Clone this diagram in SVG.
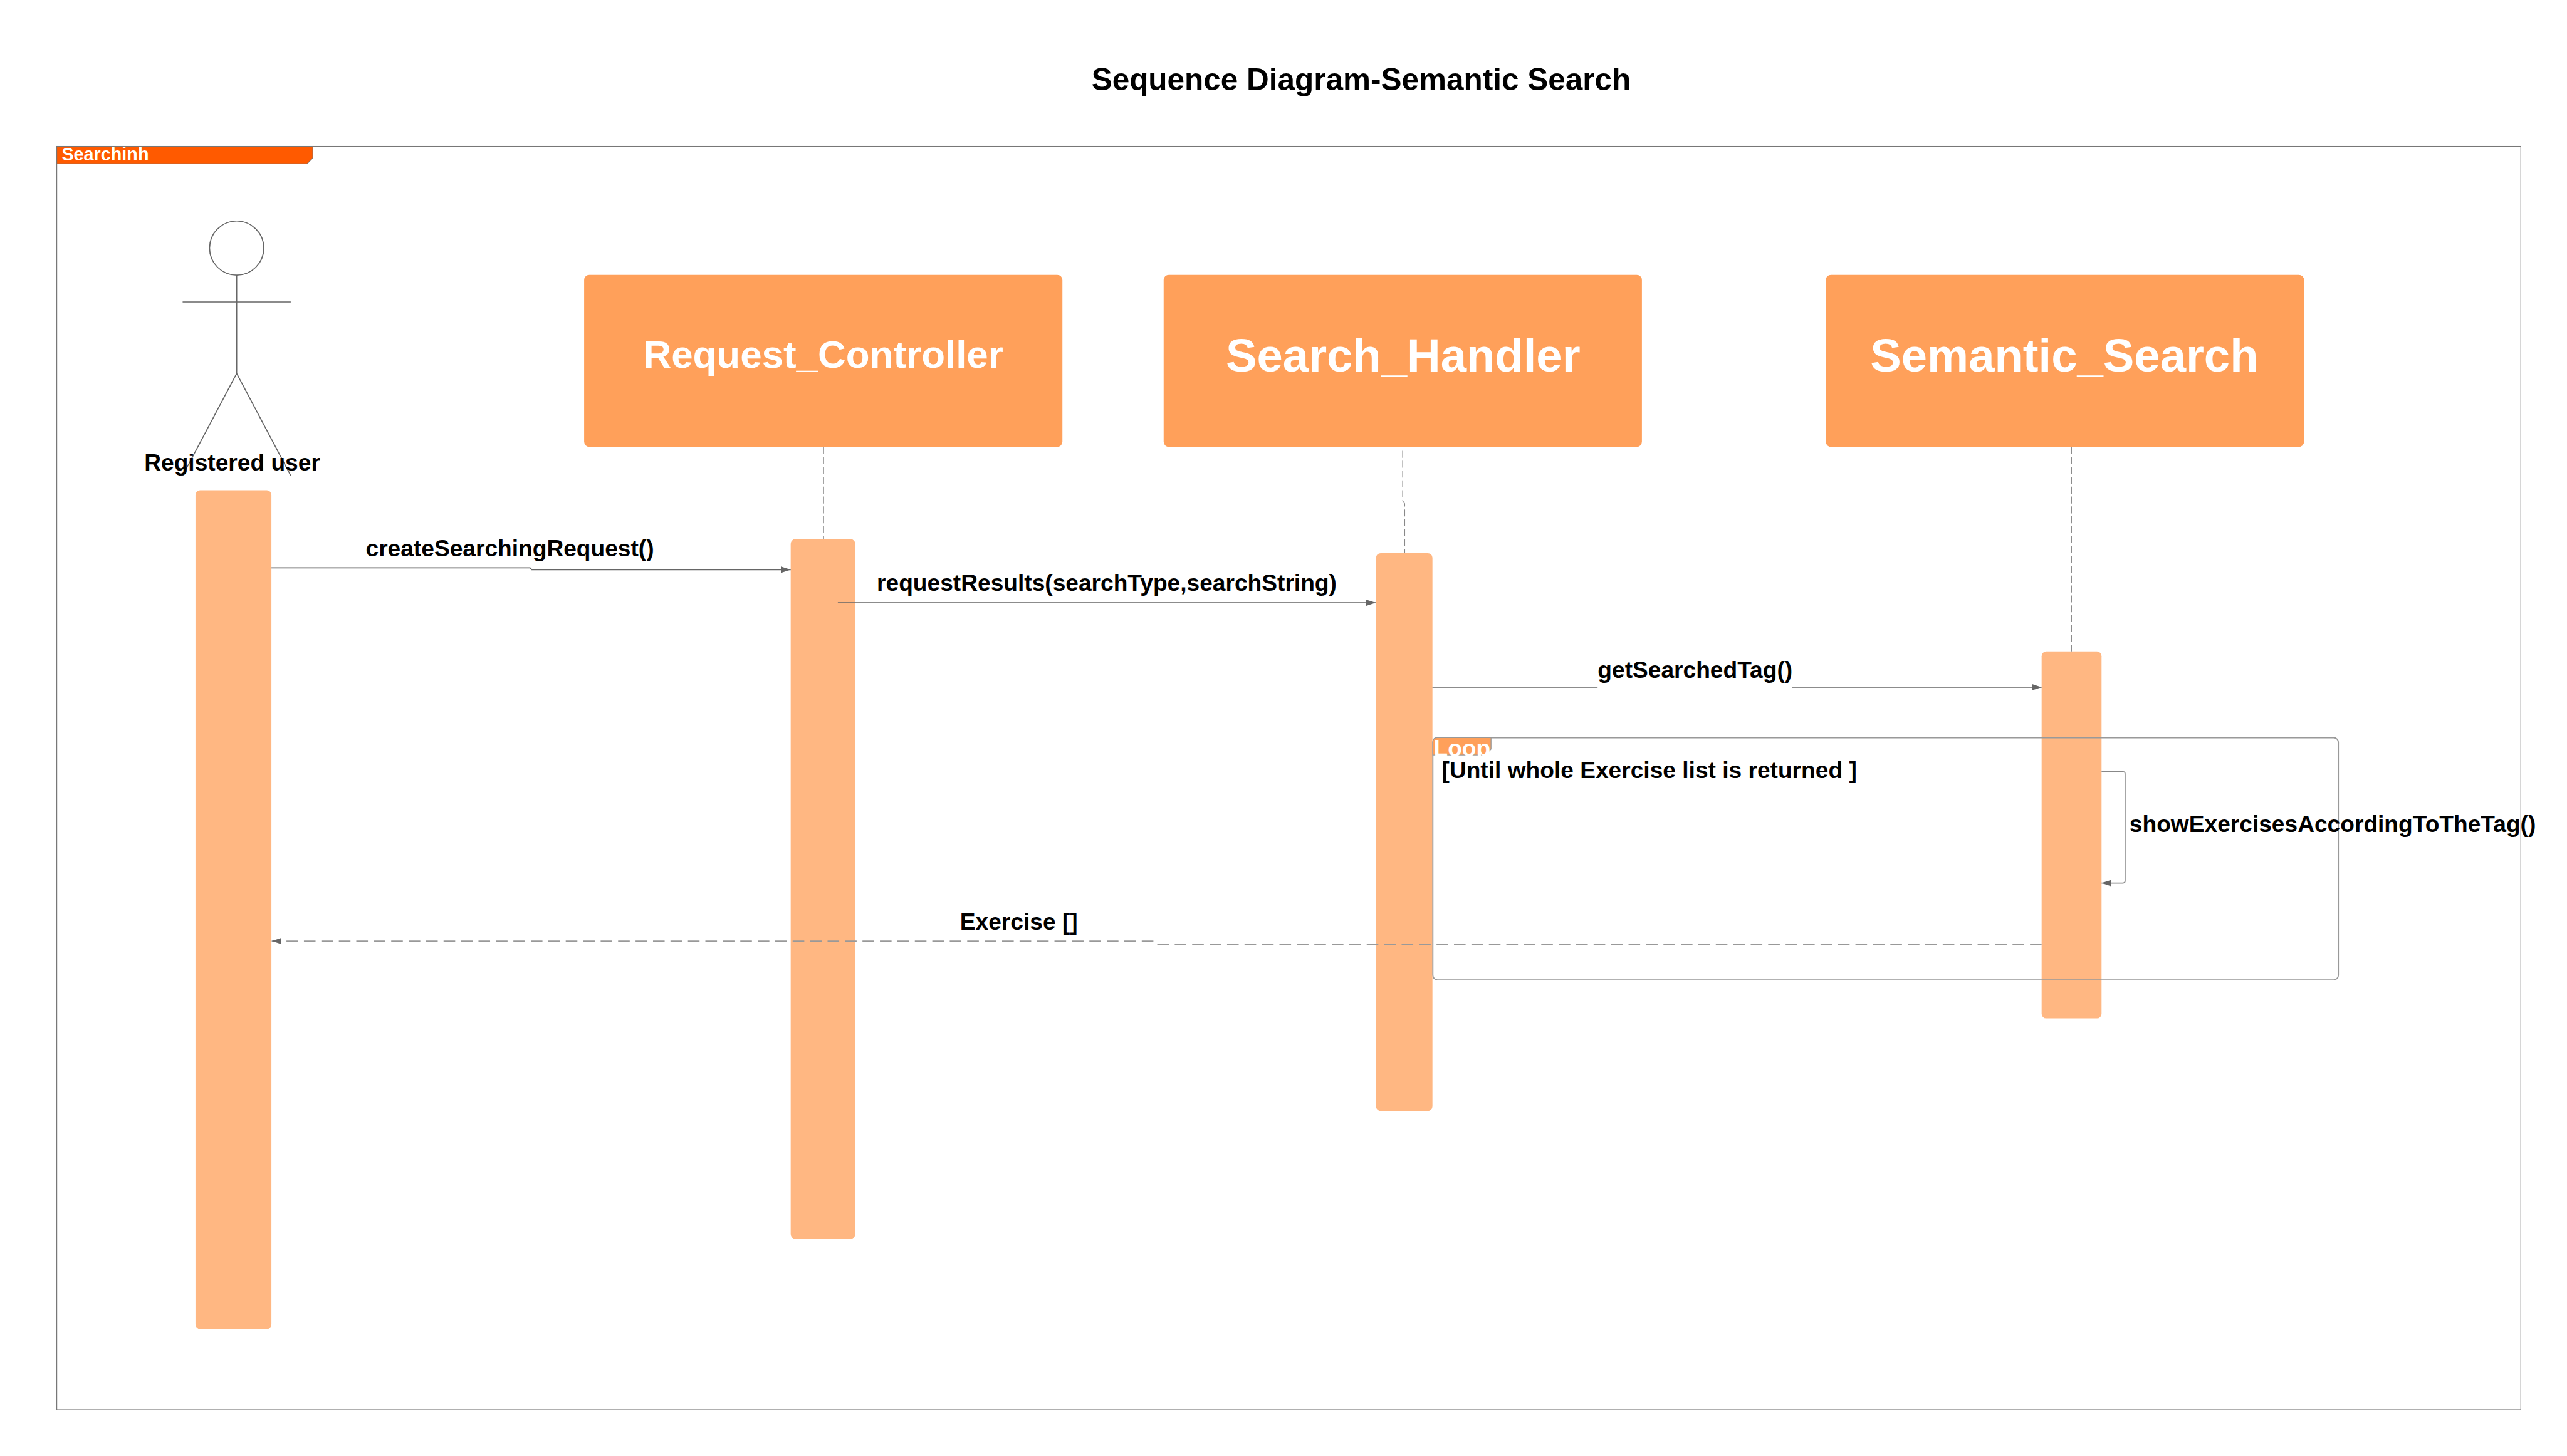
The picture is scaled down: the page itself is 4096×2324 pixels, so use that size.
<svg xmlns="http://www.w3.org/2000/svg" width="4096" height="2324" viewBox="0 0 4096 2324">
<style>
text{font-family:"Liberation Sans",Arial,sans-serif;font-weight:700;fill:#000}
.lbl{font-size:40px}
.wht{fill:#fff}
.big{font-size:80px;text-anchor:middle}
.box{fill:#ffa05a}
.act{fill:#ffb782}
.line{fill:none;stroke:#666;stroke-width:1.8}
.actor{fill:none;stroke:#666;stroke-width:1.8}
.ret{fill:none;stroke:#999;stroke-width:2;stroke-dasharray:20 10}
.life{fill:none;stroke:#888;stroke-width:1.4;stroke-dasharray:12 5}
.frame{fill:none;stroke:#777;stroke-width:1.3}
.loop{fill:none;stroke:#999;stroke-width:2}
</style>
<defs>
<marker id="arrow" markerUnits="userSpaceOnUse" markerWidth="18" markerHeight="12" refX="17" refY="6" orient="auto"><path d="M0,0.5 L17,6 L0,11.5 Z" fill="#666"/></marker>
</defs>
<rect width="4096" height="2324" fill="#fff"/>
<g transform="scale(0.92838)">
<text id="title" x="1876" y="155" font-size="53.300">Sequence Diagram-Semantic Search</text>
<g id="frame-searching">
<rect class="frame" x="97.6" y="251.6" width="4235" height="2172"/>
<path d="M97.6,251.6 H537.7 V271.5 L528,281.4 H97.6 Z" fill="#ff5a00" stroke="#777" stroke-width="1.2"/>
<text x="106" y="276" font-size="31" class="wht">Searchinh</text>
</g>
<g id="activations">
<rect class="act" x="336" y="843" width="130.500" height="1442" rx="8"/>
<rect class="act" x="1359" y="927" width="111" height="1203" rx="8"/>
<rect class="act" x="2365" y="951" width="97" height="959" rx="8"/>
<rect class="act" x="3509" y="1120" width="103" height="631" rx="8"/>
</g>
<g id="actor-registered-user">
<ellipse class="actor" cx="406.800" cy="426.500" rx="46.600" ry="46.500"/>
<path class="actor" d="M406.800,473 V642 M313.900,519.200 H499.700 M313.900,817.600 L406.800,642 L499.700,817.600"/>
<text class="lbl" x="248" y="808.400">Registered user</text>
</g>
<g id="node-request-controller">
<rect class="box" x="1004" y="472.500" width="822" height="296" rx="9"/>
<text x="1415" y="632" font-size="66.700" text-anchor="middle" class="wht">Request_Controller</text>
</g>
<g id="node-search-handler">
<rect class="box" x="2000" y="472.500" width="822" height="296" rx="9"/>
<text x="2411.500" y="638.300" class="big wht">Search_Handler</text>
</g>
<g id="node-semantic-search">
<rect class="box" x="3138" y="472.500" width="822" height="296" rx="9"/>
<text x="3548" y="638.300" class="big wht">Semantic_Search</text>
</g>
<g id="fragment-loop">
<rect class="loop" x="2462.700" y="1268.300" width="1556.300" height="416.500" rx="8"/>
<path d="M2462.700,1276 Q2462.700,1268.300 2470,1268.300 H2562.700 V1288 L2553,1298 H2462.700 Z" fill="#ffa05a" stroke="#999" stroke-width="1.400"/>
<text class="lbl wht" x="2464" y="1300">Loop</text>
<text class="lbl" x="2478" y="1337.500">[Until whole Exercise list is returned ]</text>
</g>
<g id="connectors">
<path class="life" d="M1415.500,768.700 V927"/>
<path class="life" d="M2410.800,775 V861 L2414.300,866 V951"/>
<path class="life" d="M3560.300,768.700 V1120"/>
<path class="line" d="M466.500,976.300 H911 L914,979.500 H1359" marker-end="url(#arrow)"/>
<path class="line" d="M1440,1036.300 H2364.500" marker-end="url(#arrow)"/>
<path class="line" d="M2462,1181.500 H2745.800"/>
<path class="line" d="M3080,1181.500 H3509" marker-end="url(#arrow)"/>
<path class="line" d="M3612,1326.800 H3649 Q3652.500,1326.800 3652.500,1330.300 V1514.800 Q3652.500,1518.300 3649,1518.300 H3612" style="stroke:#888" marker-end="url(#arrow)"/>
<path class="ret" d="M3509,1623.300 H1988 L1985.500,1618 H467" marker-end="url(#arrow)"/>
</g>
<g id="connector-labels">
<text class="lbl" x="628.500" y="956.700">createSearchingRequest()</text>
<text class="lbl" x="1507" y="1016">requestResults(searchType,searchString)</text>
<text class="lbl" x="2746" y="1165.600">getSearchedTag()</text>
<text class="lbl" x="3660" y="1430">showExercisesAccordingToTheTag()</text>
<text class="lbl" x="1650" y="1598.300">Exercise []</text>
</g>
</g>
</svg>
